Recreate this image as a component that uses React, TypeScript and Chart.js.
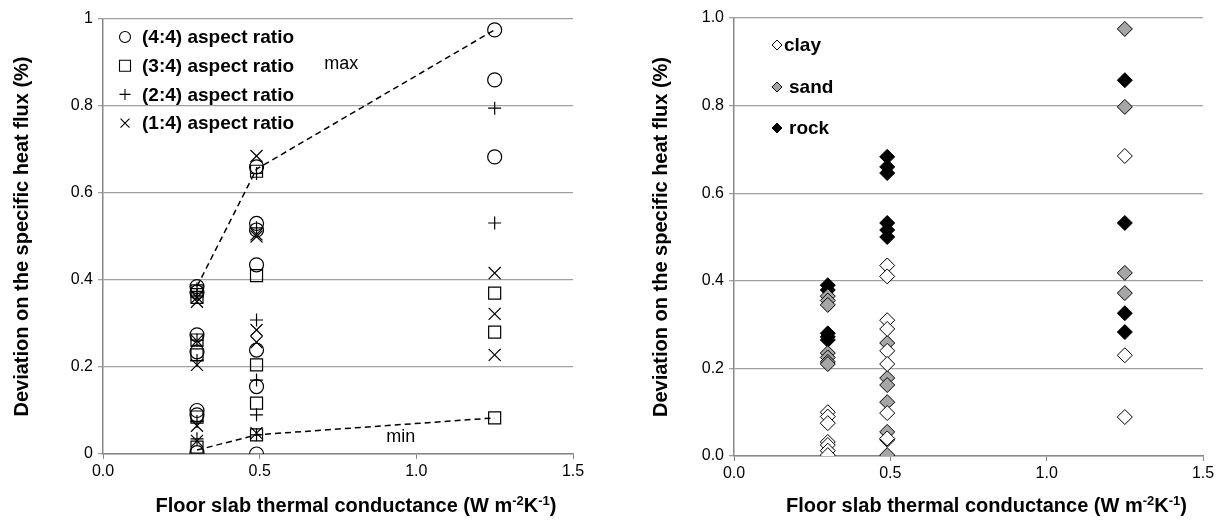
import React, { useEffect, useRef } from 'react';
import { Chart, registerables } from 'chart.js';

Chart.register(...registerables);

const FONT = "'Liberation Sans', Arial, Helvetica, sans-serif";

// ---------- data ----------
const conductance = [0.3, 0.49, 1.25];

const xTickLabels = ['0.0', '0.5', '1.0', '1.5'];
const leftYTickLabels = ['0', '0.2', '0.4', '0.6', '0.8', '1'];
const rightYTickLabels = ['0.0', '0.2', '0.4', '0.6', '0.8', '1.0'];

// left chart: values per conductance group
const ratio44 = [
  [0.385, 0.372, 0.274, 0.235, 0.1, 0.09, 0.003],
  [0.66, 0.53, 0.515, 0.435, 0.239, 0.155, 0.0],
  [0.975, 0.86, 0.683],
];
const ratio34 = [
  [0.375, 0.36, 0.262, 0.228, 0.085, 0.016],
  [0.65, 0.41, 0.205, 0.117, 0.044],
  [0.37, 0.28, 0.083],
];
const ratio24 = [
  [0.38, 0.365, 0.262, 0.215, 0.075, 0.035],
  [0.645, 0.52, 0.308, 0.17, 0.09, 0.044],
  [0.795, 0.531],
];
const ratio14 = [
  [0.35, 0.36, 0.26, 0.205, 0.065, 0.03],
  [0.685, 0.505, 0.5, 0.285, 0.257, 0.048],
  [0.416, 0.322, 0.228],
];
const maxLine = [0.385, 0.655, 0.975];
const minLine = [0.009, 0.044, 0.083];

// right chart
const clay = [
  [0.1, 0.09, 0.075, 0.032, 0.025, 0.012, 0.002],
  [0.435, 0.41, 0.31, 0.29, 0.24, 0.21, 0.098, 0.04],
  [0.685, 0.23, 0.089],
];
const sand = [
  [0.365, 0.355, 0.345, 0.235, 0.225, 0.215, 0.21],
  [0.258, 0.178, 0.162, 0.123, 0.055, 0.037, 0.002],
  [0.975, 0.797, 0.418, 0.372],
];
const rock = [
  [0.39, 0.379, 0.28, 0.272, 0.265],
  [0.683, 0.66, 0.646, 0.532, 0.516, 0.5],
  [0.858, 0.532, 0.326, 0.283],
];

const leftLegend = ['(4:4) aspect ratio', '(3:4) aspect ratio', '(2:4) aspect ratio', '(1:4) aspect ratio'];
const rightLegend = ['clay', 'sand', 'rock'];

const yTitle = 'Deviation on the specific heat flux (%)';

// ---------- helpers ----------
function toPoints(groups: number[][]) {
  const pts: { x: number; y: number }[] = [];
  groups.forEach((g, i) => g.forEach((v) => pts.push({ x: conductance[i], y: v })));
  return pts;
}
function linePoints(vals: number[]) {
  return vals.map((v, i) => ({ x: conductance[i], y: v }));
}

function drawMarker(ctx: CanvasRenderingContext2D, style: string, x: number, y: number, r: number, fill: string | null, stroke: string, lw: number) {
  ctx.save();
  ctx.beginPath();
  ctx.lineWidth = lw;
  ctx.strokeStyle = stroke;
  if (style === 'circle') {
    ctx.arc(x, y, r, 0, Math.PI * 2);
  } else if (style === 'rect') {
    ctx.rect(x - r, y - r, 2 * r, 2 * r);
  } else if (style === 'cross') {
    ctx.moveTo(x - r, y); ctx.lineTo(x + r, y);
    ctx.moveTo(x, y - r); ctx.lineTo(x, y + r);
  } else if (style === 'crossRot') {
    ctx.moveTo(x - r, y - r); ctx.lineTo(x + r, y + r);
    ctx.moveTo(x - r, y + r); ctx.lineTo(x + r, y - r);
  } else if (style === 'rectRot') {
    ctx.moveTo(x - r, y); ctx.lineTo(x, y - r); ctx.lineTo(x + r, y); ctx.lineTo(x, y + r); ctx.closePath();
  }
  if (fill) { ctx.fillStyle = fill; ctx.fill(); }
  ctx.stroke();
  ctx.restore();
}

function drawXTitle(ctx: CanvasRenderingContext2D, cx: number, baseline: number) {
  const parts: [string, boolean][] = [
    ['Floor slab thermal conductance (W m', false],
    ['-2', true],
    ['K', false],
    ['-1', true],
    [')', false],
  ];
  const big = `bold 20px ${FONT}`;
  const small = `bold 13px ${FONT}`;
  let total = 0;
  for (const [t, sup] of parts) {
    ctx.font = sup ? small : big;
    total += ctx.measureText(t).width;
  }
  let x = cx - total / 2;
  ctx.fillStyle = '#000';
  ctx.textBaseline = 'alphabetic';
  ctx.textAlign = 'left';
  for (const [t, sup] of parts) {
    ctx.font = sup ? small : big;
    ctx.fillText(t, x, sup ? baseline - 7 : baseline);
    x += ctx.measureText(t).width;
  }
}

function drawYTitle(ctx: CanvasRenderingContext2D, x: number, cy: number) {
  ctx.save();
  ctx.translate(x, cy);
  ctx.rotate(-Math.PI / 2);
  ctx.font = `bold 20px ${FONT}`;
  ctx.fillStyle = '#000';
  ctx.textAlign = 'center';
  ctx.textBaseline = 'middle';
  ctx.fillText(yTitle, 0, 0);
  ctx.restore();
}

const GRID = '#a0a0a0';
const AXIS = '#888888';

function makeScales(yLabels: string[], yWidth: number, xHeight: number) {
  return {
    x: {
      type: 'linear' as const,
      min: 0,
      max: 1.5,
      ticks: {
        stepSize: 0.5,
        color: '#000',
        font: { family: FONT, size: 16 },
        padding: 3,
        maxRotation: 0,
        callback: (_v: any, i: number) => xTickLabels[i],
      },
      grid: { drawOnChartArea: false, drawTicks: true, tickLength: 5, color: AXIS },
      border: { display: true, color: AXIS, width: 1.5 },
      afterFit: (s: any) => { s.height = xHeight; },
    },
    y: {
      type: 'linear' as const,
      min: 0,
      max: 1,
      ticks: {
        stepSize: 0.2,
        color: '#000',
        font: { family: FONT, size: 16 },
        padding: 5,
        callback: (_v: any, i: number) => yLabels[i],
      },
      grid: { color: GRID, lineWidth: 1.3, drawTicks: true, tickLength: 5 },
      border: { display: true, color: AXIS, width: 1.5 },
      afterFit: (s: any) => { s.width = yWidth; },
    },
  };
}

// ---------- left chart ----------
function LeftChart() {
  const ref = useRef<HTMLCanvasElement>(null);
  useEffect(() => {
    const markerStyles = ['circle', 'rect', 'cross', 'crossRot'];
    const markerRadius = [7, 8.5, 6.5, 8.5];
    const groups = [ratio44, ratio34, ratio24, ratio14];
    const datasets: any[] = groups.map((g, i) => ({
      label: leftLegend[i],
      data: toPoints(g),
      pointStyle: markerStyles[i],
      pointRadius: markerRadius[i],
      pointBorderColor: '#000',
      pointBackgroundColor: 'rgba(0,0,0,0)',
      pointBorderWidth: 1.2,
      showLine: false,
    }));
    datasets.push({
      label: 'max', data: linePoints(maxLine), showLine: true, pointRadius: 0,
      borderColor: '#000', borderWidth: 1.5, borderDash: [6, 4],
    });
    datasets.push({
      label: 'min', data: linePoints(minLine), showLine: true, pointRadius: 0,
      borderColor: '#000', borderWidth: 1.5, borderDash: [6, 4],
    });

    const overlay = {
      id: 'leftOverlay',
      afterDraw(chart: any) {
        const { ctx, chartArea, scales } = chart;
        // legend
        const lx = chartArea.left + 22;
        const tx = chartArea.left + 39;
        const legendR = [5.5, 5.5, 5.5, 4.5];
        leftLegend.forEach((t, i) => {
          const y = chartArea.top + 18 + i * 28.7;
          drawMarker(ctx, markerStyles[i], lx, y, legendR[i], null, '#000', 1.1);
          ctx.font = `bold 19px ${FONT}`;
          ctx.fillStyle = '#000';
          ctx.textAlign = 'left';
          ctx.textBaseline = 'middle';
          ctx.fillText(t, tx, y + 1);
        });
        // annotations
        ctx.font = `18px ${FONT}`;
        ctx.fillStyle = '#000';
        ctx.textAlign = 'center';
        ctx.textBaseline = 'middle';
        ctx.fillText('max', scales.x.getPixelForValue(0.76), scales.y.getPixelForValue(0.897));
        ctx.fillText('min', scales.x.getPixelForValue(0.95), scales.y.getPixelForValue(0.04));
        // titles
        drawYTitle(ctx, 22, (chartArea.top + chartArea.bottom) / 2);
        drawXTitle(ctx, (chartArea.left + chartArea.right) / 2 + 18, 512);
      },
    };

    const chart = new Chart(ref.current as HTMLCanvasElement, {
      type: 'scatter',
      data: { datasets },
      options: {
        animation: false,
        responsive: false,
        layout: { padding: { left: 0, top: 19, right: 36, bottom: 0 } },
        plugins: { legend: { display: false }, tooltip: { enabled: false } },
        scales: makeScales(leftYTickLabels, 103, 73) as any,
      },
      plugins: [overlay],
    });
    return () => chart.destroy();
  }, []);
  return <canvas ref={ref} width={609} height={527} style={{ position: 'absolute', left: 0, top: 0, width: 609, height: 527 }} />;
}

// ---------- right chart ----------
function RightChart() {
  const ref = useRef<HTMLCanvasElement>(null);
  useEffect(() => {
    const fills = ['#ffffff', '#a6a6a6', '#000000'];
    const groups = [clay, sand, rock];
    const datasets: any[] = groups.map((g, i) => ({
      label: rightLegend[i],
      data: toPoints(g),
      pointStyle: 'rectRot',
      pointRadius: 7.5,
      pointBorderColor: '#000',
      pointBackgroundColor: fills[i],
      pointBorderWidth: 1,
      showLine: false,
    }));

    const overlay = {
      id: 'rightOverlay',
      afterDraw(chart: any) {
        const { ctx, chartArea } = chart;
        const textX = [chartArea.left + 50, chartArea.left + 55, chartArea.left + 55];
        const ys = [27, 69, 110];
        rightLegend.forEach((t, i) => {
          const y = chartArea.top + ys[i];
          drawMarker(ctx, 'rectRot', chartArea.left + 43, y, 5, fills[i], '#000', 1);
          ctx.font = `bold 19px ${FONT}`;
          ctx.fillStyle = '#000';
          ctx.textAlign = 'left';
          ctx.textBaseline = 'middle';
          ctx.fillText(t, textX[i], y + 1);
        });
        drawYTitle(ctx, 52, (chartArea.top + chartArea.bottom) / 2);
        drawXTitle(ctx, (chartArea.left + chartArea.right) / 2 + 18, 512);
      },
    };

    const chart = new Chart(ref.current as HTMLCanvasElement, {
      type: 'scatter',
      data: { datasets },
      options: {
        animation: false,
        responsive: false,
        layout: { padding: { left: 0, top: 18, right: 16, bottom: 0 } },
        plugins: { legend: { display: false }, tooltip: { enabled: false } },
        scales: makeScales(rightYTickLabels, 125, 71) as any,
      },
      plugins: [overlay],
    });
    return () => chart.destroy();
  }, []);
  return <canvas ref={ref} width={610} height={527} style={{ position: 'absolute', left: 609, top: 0, width: 610, height: 527 }} />;
}

export default function App() {
  return (
    <div style={{ position: 'absolute', left: 0, top: 0, width: 1219, height: 527, background: '#fff' }}>
      <LeftChart />
      <RightChart />
    </div>
  );
}
